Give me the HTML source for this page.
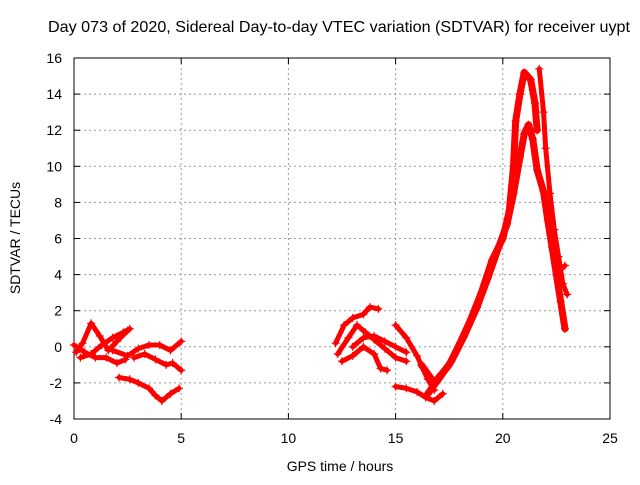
<!DOCTYPE html>
<html><head><meta charset="utf-8"><style>
body{margin:0;background:#fff;}
svg{font-family:"Liberation Sans",sans-serif;}
</style></head><body>
<svg id="chart" width="640" height="480" xmlns="http://www.w3.org/2000/svg">
<rect width="640" height="480" fill="#fff"/>
<text x="339" y="32" font-size="16" text-anchor="middle" textLength="582" lengthAdjust="spacingAndGlyphs">Day 073 of 2020, Sidereal Day-to-day VTEC variation (SDTVAR) for receiver uypt</text>
<g id="grid"></g>
<rect x="74" y="58" width="536" height="361" fill="none" stroke="#000"/>
<g id="axes" font-size="14"></g>
<text x="340" y="471" font-size="14" text-anchor="middle">GPS time / hours</text>
<text transform="translate(20,238) rotate(-90)" font-size="14" text-anchor="middle">SDTVAR / TECUs</text>
<g id="marks"></g>
</svg>
<script>
const xTicks=[0,5,10,15,20,25];
const yTicks=[-4,-2,0,2,4,6,8,10,12,14,16];
const trackA=[[0.1,-0.3],[0.4,0.2],[0.8,1.3],[1.2,0.6],[1.6,-0.2],[2.0,0.3],[2.5,0.9]];
const trackB=[[0.3,-0.6],[0.8,-0.4],[1.3,0.1],[1.8,0.5],[2.3,0.8],[2.6,1.0]];
const trackC=[[2.1,-1.7],[2.6,-1.8],[3.0,-2.0],[3.5,-2.3],[3.8,-2.7],[4.1,-3.0],[4.5,-2.6],[4.9,-2.3]];
const trackD=[[1.8,-0.2],[2.5,-0.5],[3.0,-0.1],[3.5,0.1],[4.0,0.1],[4.5,-0.2],[5.0,0.3]];
const trackE=[[2.8,-0.6],[3.3,-0.4],[3.8,-0.7],[4.3,-1.0],[4.6,-0.9],[5.0,-1.3]];
const trackF=[[0.0,0.1],[0.5,-0.3],[1.0,-0.6],[1.5,-0.6],[2.0,-0.9],[2.4,-0.7]];
const trackG=[[12.2,0.2],[12.6,1.2],[13.0,1.6],[13.5,1.8],[13.8,2.2],[14.2,2.1]];
const trackH=[[12.3,-0.4],[12.8,0.5],[13.2,1.2],[13.6,0.8],[14.0,0.4],[14.5,-0.1],[15.0,-0.6],[15.5,-0.8]];
const trackI=[[12.5,-0.8],[13.0,-0.5],[13.5,0.0],[14.0,-0.4],[14.3,-1.2],[14.6,-1.3]];
const trackJ=[[13.0,0.0],[13.5,0.5],[14.0,0.6],[14.5,0.3],[15.0,0.0],[15.5,-0.3]];
const trackK=[[15.0,1.2],[15.5,0.5],[16.0,-0.5],[16.5,-1.8],[16.8,-2.4]];
const trackL=[[15.0,-2.2],[15.5,-2.3],[16.0,-2.5],[16.4,-2.8],[16.8,-3.0],[17.2,-2.6]];
const trackM=[[16.2,-1.0],[16.8,-2.0],[17.5,-1.0],[18.0,0.2],[18.5,1.5],[19.0,3.0],[19.5,4.8],[20.0,6.0],[20.3,7.5],[20.5,10.0],[20.6,12.5],[20.8,14.0],[21.0,15.2],[21.3,14.8],[21.5,13.5],[21.6,12.0]];
const trackN=[[16.5,-2.6],[17.0,-1.8],[17.6,-0.8],[18.2,0.6],[18.8,2.2],[19.3,3.8],[19.8,5.5],[20.2,6.8],[20.5,8.5],[20.8,10.5],[21.0,11.8],[21.2,12.3],[21.4,11.5],[21.6,9.8],[21.9,8.6],[22.1,7.0],[22.3,5.5],[22.5,4.0],[22.7,2.5],[22.9,1.0]];
const trackO=[[21.7,15.4],[21.9,13.0],[22.0,11.0],[22.2,8.5],[22.4,6.5],[22.6,5.0],[22.8,3.5],[23.0,2.9]];
const trackP=[[22.6,4.2],[22.9,4.5]];
const tracks=[trackA,trackB,trackC,trackD,trackE,trackF,trackG,trackH,trackI,trackJ,trackK,trackL,trackM,trackN,trackO,trackP];
const X=v=>74+(v-0)*(536/25);
const Y=v=>419-(v+4)*(361/20);
const NS="http://www.w3.org/2000/svg";
const grid=document.getElementById('grid'),axes=document.getElementById('axes'),marks=document.getElementById('marks');
function mk(t,a,p){const e=document.createElementNS(NS,t);for(const k in a)e.setAttribute(k,a[k]);p.appendChild(e);return e;}
xTicks.forEach(t=>{const x=X(t);
 if(t>0&&t<25){const l=mk('line',{x1:x,x2:x,y1:58,y2:419,stroke:'#999','stroke-dasharray':'2,3'},grid);
 
 }
 const tx=mk('text',{x:x,y:443,'text-anchor':'middle'},axes);tx.textContent=t;
 
 
 mk('line',{x1:x,x2:x,y1:419,y2:413,stroke:'#000'},axes);mk('line',{x1:x,x2:x,y1:58,y2:64,stroke:'#000'},axes);});
yTicks.forEach(t=>{const y=Y(t);
 if(t>-4&&t<16){const l=mk('line',{x1:74,x2:610,y1:y,y2:y,stroke:'#999','stroke-dasharray':'2,3'},grid);
 
 }
 const tx=mk('text',{x:62,y:y+5,'text-anchor':'end'},axes);tx.textContent=t;
 
 
 mk('line',{x1:74,x2:80,y1:y,y2:y,stroke:'#000'},axes);mk('line',{x1:610,x2:604,y1:y,y2:y,stroke:'#000'},axes);});
tracks.forEach((tr,i)=>{
 const w=(tr===trackM||tr===trackN)?7:5;
 const pl=mk('polyline',{points:tr.map(p=>X(p[0])+','+Y(p[1])).join(' '),fill:'none',stroke:'#f00','stroke-width':w,'stroke-linejoin':'round','stroke-linecap':'round'},marks);
 
 
 tr.forEach(p=>{const x=X(p[0]),y=Y(p[1]);
  const m=mk('path',{d:`M${x-4},${y}h8M${x},${y-4}v8`,stroke:'#f00','stroke-width':1.2},marks);
  
  });
});
</script>
</body></html>
